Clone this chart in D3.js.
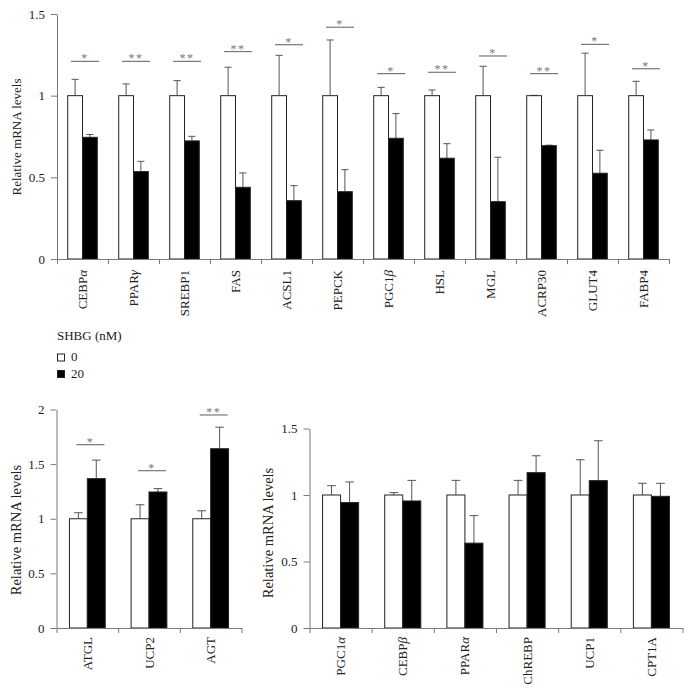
<!DOCTYPE html>
<html>
<head>
<meta charset="utf-8">
<script src="https://cdn.jsdelivr.net/npm/d3@7"></script>
<style>
  body { margin: 0; background: #fff; }
</style>
</head>
<body>
<svg id="chart" width="690" height="694"></svg>
<script>
// top panel: adipogenic / lipid genes
var topGenes = ['CEBP|α', 'PPAR|γ', 'SREBP1', 'FAS', 'ACSL1', 'PEPCK', 'PGC1|β', 'HSL', 'MGL', 'ACRP30', 'GLUT4', 'FABP4'];
var topControl = [1, 1, 1, 1, 1, 1, 1, 1, 1, 1, 1, 1];
var topControlErr = [0.10, 0.072, 0.092, 0.174, 0.247, 0.341, 0.051, 0.035, 0.18, 0.002, 0.26, 0.088];
var topTreated = [0.745, 0.535, 0.723, 0.439, 0.357, 0.412, 0.739, 0.617, 0.351, 0.694, 0.525, 0.729];
var topTreatedErr = [0.017, 0.063, 0.028, 0.088, 0.092, 0.135, 0.151, 0.089, 0.272, 0.003, 0.141, 0.061];
var topSig = ['*', '**', '**', '**', '*', '*', '*', '**', '*', '**', '*', '*'];
var topSigLevel = [1.21, 1.21, 1.21, 1.27, 1.312, 1.419, 1.135, 1.143, 1.243, 1.135, 1.314, 1.165];
var topTicks = [0, 0.5, 1, 1.5];

// bottom left panel
var leftGenes = ['ATGL', 'UCP2', 'AGT'];
var leftControl = [1, 1, 1];
var leftControlErr = [0.055, 0.128, 0.073];
var leftTreated = [1.367, 1.245, 1.641];
var leftTreatedErr = [0.17, 0.031, 0.197];
var leftSig = ['*', '*', '**'];
var leftSigLevel = [1.678, 1.44, 1.95];
var leftTicks = [0, 0.5, 1, 1.5, 2];

// bottom right panel
var rightGenes = ['PGC1|α', 'CEBP|β', 'PPAR|α', 'ChREBP', 'UCP1', 'CPT1A'];
var rightControl = [1, 1, 1, 1, 1, 1];
var rightControlErr = [0.07, 0.018, 0.11, 0.11, 0.265, 0.088];
var rightTreated = [0.943, 0.955, 0.638, 1.168, 1.108, 0.99];
var rightTreatedErr = [0.155, 0.155, 0.207, 0.127, 0.30, 0.098];
var rightTicks = [0, 0.5, 1, 1.5];

var groups = ['0', '20'];
var groupFill = { '0': '#fff', '20': '#000' };
var legendTitle = 'SHBG (nM)';
var yTitle = 'Relative mRNA levels';

var serif = '"Liberation Serif", "Times New Roman", Times, serif';
var svg = d3.select('#chart').style('font-family', serif);

function label(sel) {
  return sel.style('font-family', serif).style('fill', '#222');
}

function drawPanel(p) {
  var g = svg.append('g');
  var n = p.genes.length;

  var x = d3.scaleBand().domain(d3.range(n)).range([p.x0, p.x1]).padding(0);
  var xEdge = d3.scaleLinear().domain([0, n]).range([p.x0, p.x1]);
  var xInner = d3.scaleBand().domain(groups).range([0, x.bandwidth()])
    .paddingInner(0).paddingOuter(0.724);
  var y = d3.scaleLinear().domain([0, p.yMax]).range([p.y0, p.y1]);

  var bars = [];
  p.genes.forEach(function (gene, i) {
    bars.push({ i: i, grp: '0', v: p.control[i], e: p.controlErr[i] });
    bars.push({ i: i, grp: '20', v: p.treated[i], e: p.treatedErr[i] });
  });

  // error bars (drawn first so bars sit on top)
  var err = g.append('g').attr('stroke', '#555').attr('stroke-width', 1);
  bars.forEach(function (d) {
    var cx = x(d.i) + xInner(d.grp) + xInner.bandwidth() / 2;
    var capW = xInner.bandwidth() * 0.24;
    err.append('line')
      .attr('x1', cx).attr('x2', cx)
      .attr('y1', y(d.v)).attr('y2', y(d.v + d.e));
    err.append('line')
      .attr('x1', cx - capW).attr('x2', cx + capW)
      .attr('y1', y(d.v + d.e)).attr('y2', y(d.v + d.e));
  });

  g.append('g').selectAll('rect')
    .data(bars)
    .join('rect')
    .attr('x', function (d) { return x(d.i) + xInner(d.grp); })
    .attr('y', function (d) { return y(d.v); })
    .attr('width', xInner.bandwidth())
    .attr('height', function (d) { return y(0) - y(d.v); })
    .attr('fill', function (d) { return groupFill[d.grp]; })
    .attr('stroke', '#222')
    .attr('stroke-width', 1);

  // significance marks
  if (p.sig) {
    var sg = g.append('g');
    p.sig.forEach(function (s, i) {
      var mid = x(i) + x.bandwidth() / 2 + x.bandwidth() * 0.05;
      var half = 14;
      var ly = y(p.sigLevel[i]);
      sg.append('line')
        .attr('x1', mid - half).attr('x2', mid + half)
        .attr('y1', ly).attr('y2', ly)
        .attr('stroke', '#777').attr('stroke-width', 1.2);
      label(sg.append('text'))
        .attr('x', mid).attr('y', ly + 1)
        .attr('text-anchor', 'middle')
        .style('font-size', '12px')
        .attr('letter-spacing', 1.5)
        .style('fill', '#777')
        .text(s);
    });
  }

  // axes
  var ya = g.append('g')
    .attr('transform', 'translate(' + p.x0 + ',0)')
    .call(d3.axisLeft(y).tickValues(p.ticks).tickSize(6).tickSizeOuter(0).tickPadding(6)
      .tickFormat(function (d) { return String(d); }));
  var xa = g.append('g')
    .attr('transform', 'translate(0,' + p.y0 + ')')
    .call(d3.axisBottom(xEdge).tickValues(d3.range(n + 1)).tickSize(5).tickSizeOuter(0)
      .tickFormat(''));
  [ya, xa].forEach(function (a) {
    a.selectAll('path, line').attr('stroke', '#7a7a7a');
    label(a.selectAll('text')).style('font-size', '13px');
  });

  // category labels, rotated
  p.genes.forEach(function (gene, i) {
    var parts = gene.split('|');
    var t = label(g.append('text'))
      .attr('transform', 'translate(' + (x(i) + x.bandwidth() / 2) + ',' + (p.y0 + p.labelGap) + ') rotate(-90)')
      .attr('text-anchor', 'end')
      .attr('dy', '0.35em')
      .style('font-size', '13px');
    t.append('tspan').text(parts[0]);
    if (parts[1]) t.append('tspan').style('font-style', 'italic').text(parts[1]);
  });

  // y title
  label(g.append('text'))
    .attr('transform', 'translate(' + p.titleX + ',' + p.titleY + ') rotate(-90)')
    .attr('text-anchor', 'middle')
    .style('font-size', p.titleSize + 'px')
    .text(yTitle);
}

drawPanel({
  genes: topGenes, control: topControl, controlErr: topControlErr,
  treated: topTreated, treatedErr: topTreatedErr, sig: topSig, sigLevel: topSigLevel,
  ticks: topTicks, yMax: 1.5,
  x0: 57, x1: 669, y0: 259, y1: 14, labelGap: 11,
  titleX: 21, titleY: 137, titleSize: 13
});

drawPanel({
  genes: leftGenes, control: leftControl, controlErr: leftControlErr,
  treated: leftTreated, treatedErr: leftTreatedErr, sig: leftSig, sigLevel: leftSigLevel,
  ticks: leftTicks, yMax: 2,
  x0: 56.5, x1: 241.5, y0: 628, y1: 409.5, labelGap: 9,
  titleX: 20.5, titleY: 530, titleSize: 14.5
});

drawPanel({
  genes: rightGenes, control: rightControl, controlErr: rightControlErr,
  treated: rightTreated, treatedErr: rightTreatedErr, sig: null, sigLevel: null,
  ticks: rightTicks, yMax: 1.5,
  x0: 309.5, x1: 682.5, y0: 628, y1: 428.5, labelGap: 9,
  titleX: 273, titleY: 533, titleSize: 14.5
});

// legend
var legend = svg.append('g').attr('transform', 'translate(57,340)');
label(legend.append('text')).attr('x', 0).attr('y', 0).style('font-size', '13px').text(legendTitle);
groups.forEach(function (grp, i) {
  var row = legend.append('g').attr('transform', 'translate(0,' + (13.5 + i * 16.5) + ')');
  row.append('rect')
    .attr('x', 0.5).attr('y', 0.5).attr('width', 7).attr('height', 7)
    .attr('fill', groupFill[grp]).attr('stroke', '#222');
  label(row.append('text')).attr('x', 14).attr('y', 7.5).style('font-size', '13px').text(grp);
});
</script>
</body>
</html>
